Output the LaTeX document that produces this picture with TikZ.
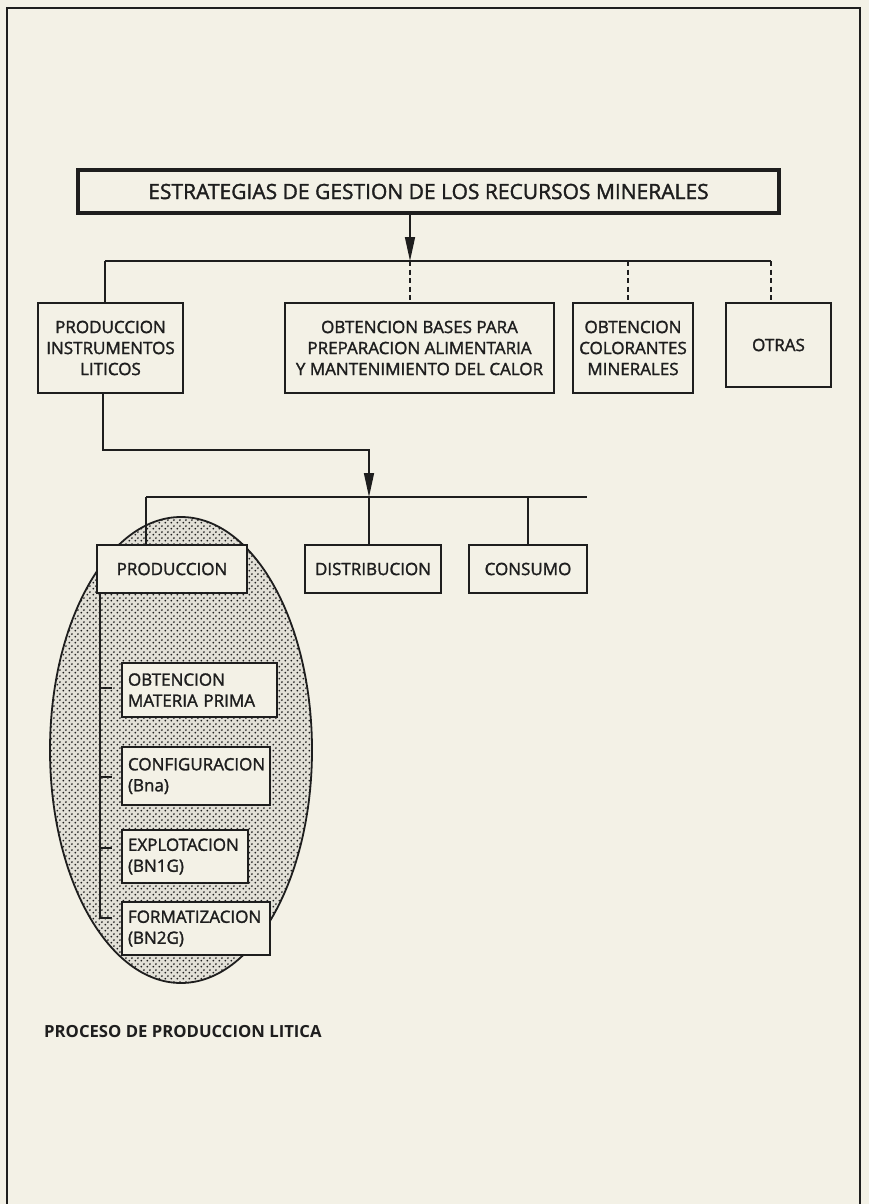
\documentclass[tikz,border=0pt]{standalone}
\usepackage{fontspec}
\setmainfont{Open Sans}
\newfontfamily\boxfont{Open Sans}[FakeBold=1.6]
\usetikzlibrary{arrows.meta,patterns,calc}
\definecolor{paper}{HTML}{F3F1E6}
\definecolor{ink}{HTML}{1E1E1E}
\pgfdeclarepatternformonly{stipple}{\pgfpointorigin}{\pgfpoint{5.6pt}{5.6pt}}{\pgfpoint{5.6pt}{5.6pt}}{%
  \pgfpathcircle{\pgfpoint{1.4pt}{1.4pt}}{1.05pt}%
  \pgfpathcircle{\pgfpoint{4.2pt}{4.2pt}}{1.05pt}%
  \pgfusepath{fill}}
\begin{document}
\begin{tikzpicture}[x=1pt,y=-1pt,
  box/.style={draw=ink,line width=1.8pt,fill=paper,text=ink,align=center,inner sep=0pt,
    font=\boxfont\fontsize{17}{21}\selectfont},
  lbox/.style={draw=ink,line width=1.8pt,fill=paper,text=ink,align=left,inner xsep=6pt,inner ysep=0pt,
    text width=#1,font=\boxfont\fontsize{17}{21}\selectfont},
  conn/.style={draw=ink,line width=1.6pt},
  dconn/.style={conn,dash pattern=on 5pt off 3.5pt},
  arr/.style={conn,-{Triangle[length=24pt,width=10pt]}},
]
\useasboundingbox (0,0) rectangle (869,1204);
\clip (0,0) rectangle (869,1204);
\fill[paper] (0,0) rectangle (869,1204);
% outer frame (continues below the page)
\draw[ink,line width=1.8pt] (7,1215) -- (7,8) -- (860,8) -- (860,1215);

% title
\node[box,minimum width=701pt,minimum height=43pt,line width=3.5pt,
  font=\boxfont\fontsize{21}{25}\selectfont] (title) at (428.5,191.5)
  {ESTRATEGIAS DE GESTION DE LOS RECURSOS MINERALES};

% second row
\node[box,minimum width=145pt,minimum height=90pt] (pil) at (110.5,348)
  {PRODUCCION\\INSTRUMENTOS\\LITICOS};
\node[box,minimum width=269pt,minimum height=90pt] (obt) at (419.5,348)
  {OBTENCION BASES PARA\\PREPARACION ALIMENTARIA\\Y MANTENIMIENTO DEL CALOR};
\node[box,minimum width=120pt,minimum height=90pt] (col) at (633,348)
  {OBTENCION\\COLORANTES\\MINERALES};
\node[box,minimum width=105pt,minimum height=84pt] (otr) at (778.5,345)
  {OTRAS};

\coordinate (b1L) at (105,261);
\coordinate (b1A) at (410,261);
\coordinate (b1B) at (628,261);
\coordinate (b1R) at (771,261);
\draw[conn] (b1L) -- (b1R);
\draw[arr] (title.south -| b1A) -- (b1A);
\draw[conn] (b1L) -- (b1L |- pil.north);
\draw[dconn] (b1A) -- (b1A |- obt.north);
\draw[dconn] (b1B) -- (b1B |- col.north);
\draw[dconn] (b1R) -- (b1R |- otr.north);

% ellipse of the lithic production process
\fill[paper!85!gray] (181,750) ellipse [x radius=131, y radius=233];
\fill[pattern=stipple,pattern color=ink] (181,750) ellipse [x radius=131, y radius=233];
\draw[ink,line width=1.8pt] (181,750) ellipse [x radius=131, y radius=233];

% third row
\node[box,minimum width=150pt,minimum height=48pt] (prod) at (172,569) {PRODUCCION};
\node[box,minimum width=136pt,minimum height=48pt] (dist) at (373,569) {DISTRIBUCION};
\node[box,minimum width=118pt,minimum height=48pt] (cons) at (528,569) {CONSUMO};

\coordinate (k1) at (103,450);
\coordinate (k2) at (369,450);
\coordinate (b2L) at (146,497);
\coordinate (b2A) at (369,497);
\coordinate (b2C) at (528,497);
\coordinate (b2R) at (587,497);
\draw[arr] (k1 |- pil.south) -- (k1) -- (k2) -- (b2A);
\draw[conn] (b2L) -- (b2R);
\draw[conn] (b2L) -- (b2L |- prod.north);
\draw[conn] (b2A) -- (b2A |- dist.north);
\draw[conn] (b2C) -- (b2C |- cons.north);

% stages inside the ellipse
\node[lbox=143pt,minimum height=54pt] (omp) at (199.5,690) {OBTENCION\\MATERIA PRIMA};
\node[lbox=136pt,minimum height=58pt] (cfg) at (196,776) {CONFIGURACION\\(Bna)};
\node[lbox=114pt,minimum height=53pt] (exp) at (185,856.5) {EXPLOTACION\\(BN1G)};
\node[lbox=136pt,minimum height=53pt] (frm) at (196,928.5) {FORMATIZACION\\(BN2G)};

\coordinate (v0) at (100,593);
\coordinate (t1) at (100,688);
\coordinate (t2) at (100,777);
\coordinate (t3) at (100,848);
\coordinate (t4) at (100,918);
\draw[conn] (v0 |- prod.south) -- (t4);
\draw[conn] (t1) -- ++(12,0);
\draw[conn] (t2) -- ++(12,0);
\draw[conn] (t3) -- ++(12,0);
\draw[conn] (t4) -- ++(12,0);

\node[anchor=west,inner sep=0pt,text=ink,font=\bfseries\fontsize{16.7}{20}\selectfont] (proc) at (44,1032)
  {PROCESO DE PRODUCCION LITICA};
\end{tikzpicture}
\end{document}
